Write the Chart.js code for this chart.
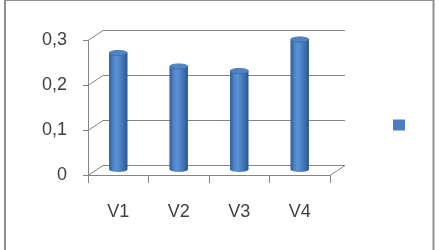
<!DOCTYPE html>
<html>
<head>
<meta charset="utf-8">
<script src="https://cdn.jsdelivr.net/npm/chart.js@4/dist/chart.umd.min.js"></script>
<style>
  html, body { margin: 0; padding: 0; background: #fff; }
  #wrap { width: 439px; height: 250px; position: relative; }
</style>
</head>
<body>
<div id="wrap"><canvas id="c" width="439" height="250"></canvas></div>
<script>
const categories = ['V1', 'V2', 'V3', 'V4'];
const seriesValues = [0.26, 0.23, 0.22, 0.29];
const yTickLabels = ['0', '0,1', '0,2', '0,3'];
const seriesLabel = '';

const DX = 15, DY = -10, BAR_SHIFT = -5;
const gridColor = '#858585';

const frame3d = {
  id: 'frame3d',
  beforeDraw(chart) {
    const ctx = chart.ctx;
    ctx.save();
    ctx.strokeStyle = '#8f8f8f';
    ctx.lineWidth = 2;
    ctx.strokeRect(5, 0, 428.5, 262);
    ctx.restore();
  },
  beforeDatasetsDraw(chart) {
    const { ctx, chartArea: a, scales: { y } } = chart;
    ctx.save();
    ctx.strokeStyle = gridColor;
    ctx.lineWidth = 1;
    y.ticks.forEach(t => {
      const py = Math.round(y.getPixelForValue(t.value)) + 0.5;
      ctx.beginPath();
      ctx.moveTo(a.left, py);
      ctx.lineTo(a.left + DX, py + DY);
      ctx.lineTo(a.right + DX, py + DY);
      ctx.stroke();
    });
    const by = Math.round(a.bottom) + 0.5;
    ctx.beginPath();
    ctx.moveTo(a.right, by);
    ctx.lineTo(a.right + DX, by + DY);
    ctx.stroke();
    ctx.restore();
    ctx.save();
    ctx.translate(0, BAR_SHIFT);
  },
  afterDatasetsDraw(chart) {
    const ctx = chart.ctx;
    const meta = chart.getDatasetMeta(0);
    meta.data.forEach(bar => {
      const w = bar.width, x0 = bar.x - w / 2, x1 = bar.x + w / 2;
      const top = bar.y, base = bar.base, ry = 2.6;
      const g = ctx.createLinearGradient(x0, 0, x1, 0);
      g.addColorStop(0, '#2f5c96');
      g.addColorStop(0.22, '#4f84c8');
      g.addColorStop(0.4, '#5c91d3');
      g.addColorStop(0.7, '#4479bd');
      g.addColorStop(1, '#2b5690');
      ctx.fillStyle = g;
      ctx.beginPath();
      ctx.moveTo(x0, top);
      ctx.lineTo(x0, base);
      ctx.ellipse(bar.x, base, w / 2, ry, 0, Math.PI, 0, true);
      ctx.lineTo(x1, top);
      ctx.closePath();
      ctx.fill();
      ctx.fillStyle = '#4f84c6';
      ctx.strokeStyle = '#3c6aa6';
      ctx.lineWidth = 0.8;
      ctx.beginPath();
      ctx.ellipse(bar.x, top, w / 2, ry, 0, 0, Math.PI * 2);
      ctx.fill();
      ctx.stroke();
    });
    ctx.restore();
  },
  afterDraw(chart) {
    const ctx = chart.ctx;
    const a = chart.chartArea;
    const ds = chart.data.datasets[0];
    ctx.save();
    ctx.fillStyle = ds.backgroundColor;
    ctx.fillRect(a.right + 63, (a.top + a.bottom) / 2 + 12, 12, 11);
    ctx.restore();
  }
};

new Chart(document.getElementById('c'), {
  type: 'bar',
  data: {
    labels: categories,
    datasets: [{
      label: seriesLabel,
      data: seriesValues,
      backgroundColor: '#4a7ebf',
      borderWidth: 0,
      barPercentage: 0.6,
      categoryPercentage: 0.5
    }]
  },
  options: {
    responsive: false,
    animation: false,
    events: [],
    layout: { padding: { left: 0, top: 40, right: 109, bottom: 0 } },
    plugins: { legend: { display: false }, tooltip: { enabled: false } },
    scales: {
      x: {
        offset: true,
        grid: { display: true, drawOnChartArea: false, drawTicks: true, tickLength: 8, color: gridColor, offset: true },
        border: { display: true, color: gridColor, width: 1 },
        ticks: { color: '#404040', font: { family: 'Liberation Sans', size: 18 }, padding: 18, maxRotation: 0 },
        afterFit(s) { s.height = 75; }
      },
      y: {
        min: 0, max: 0.3,
        grid: { display: true, drawOnChartArea: false, drawTicks: true, tickLength: 5, color: gridColor },
        border: { display: true, color: gridColor, width: 1 },
        ticks: {
          stepSize: 0.1,
          color: '#404040',
          font: { family: 'Liberation Sans', size: 18 },
          padding: 16,
          callback: (v, i) => yTickLabels[i]
        },
        afterFit(s) { s.width = 88; }
      }
    }
  },
  plugins: [frame3d]
});
</script>
</body>
</html>
